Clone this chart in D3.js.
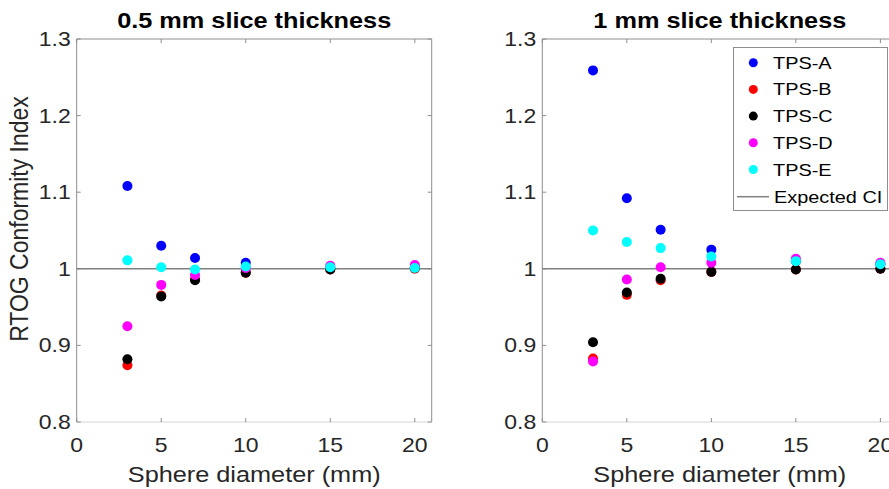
<!DOCTYPE html>
<html>
<head>
<meta charset="utf-8">
<script src="https://cdn.jsdelivr.net/npm/d3@7"></script>
<style>
  body { margin: 0; background: #fff; }
  svg text { font-family: "Liberation Sans", Arial, sans-serif; }
</style>
</head>
<body>
<div id="chart"></div>
<script>

var diameters = [3, 5, 7, 10, 15, 20];
var seriesNames = ["TPS-A", "TPS-B", "TPS-C", "TPS-D", "TPS-E"];
var seriesColors = ["#0000ff", "#ff0000", "#000000", "#ff00ff", "#00ffff"];

// 0.5 mm slice thickness
var thinA = [1.108, 1.030, 1.014, 1.008, 1.002, 1.002];
var thinB = [0.874, 0.965, 0.986, 0.995, 0.999, 1.000];
var thinC = [0.882, 0.964, 0.985, 0.995, 0.999, 1.001];
var thinD = [0.925, 0.979, 0.992, 1.001, 1.004, 1.005];
var thinE = [1.011, 1.002, 0.999, 1.003, 1.002, 1.001];

// 1 mm slice thickness
var thickA = [1.259, 1.092, 1.051, 1.025, 1.010, 1.006];
var thickB = [0.883, 0.966, 0.985, 0.996, 0.999, 1.000];
var thickC = [0.904, 0.969, 0.987, 0.996, 0.999, 1.000];
var thickD = [0.879, 0.986, 1.002, 1.008, 1.013, 1.008];
var thickE = [1.050, 1.035, 1.027, 1.016, 1.010, 1.006];

var xTicks = [0, 5, 10, 15, 20];
var yTicks = [0.8, 0.9, 1.0, 1.1, 1.2, 1.3];
var expectedCI = 1;

var W = 889, H = 489;
var stretch = 1.15; // the source figure is a bit wider than tall

var svg = d3.select("#chart")
  .append("svg")
    .attr("width", W)
    .attr("height", H);

var panelW = 355, panelTop = 39, panelH = 383;

function label(sel, x, y, sx) {
  return sel.append("text")
    .attr("transform", "translate(" + x + "," + y + ") scale(" + (sx || stretch) + ",1)");
}

function drawPanel(left, title, series) {
  var x = d3.scaleLinear().domain([0, 21]).range([left, left + panelW]);
  var y = d3.scaleLinear().domain([0.8, 1.3]).range([panelTop + panelH, panelTop]);

  var g = svg.append("g");

  // frame
  g.append("line").attr("x1", left).attr("x2", left + panelW)
    .attr("y1", y(0.8)).attr("y2", y(0.8)).attr("stroke", "#d4d4d4");
  g.append("path")
    .attr("d", "M" + left + "," + (panelTop + panelH) + "V" + panelTop + "H" + (left + panelW) + "V" + (panelTop + panelH))
    .attr("fill", "none").attr("stroke", "#8e8e8e");

  // inner ticks, mirrored on all sides
  xTicks.forEach(function(t) {
    g.append("line").attr("x1", x(t)).attr("x2", x(t)).attr("y1", y(0.8)).attr("y2", y(0.8) - 4).attr("stroke", "#8e8e8e");
    g.append("line").attr("x1", x(t)).attr("x2", x(t)).attr("y1", panelTop).attr("y2", panelTop + 4).attr("stroke", "#8e8e8e");
  });
  yTicks.forEach(function(t) {
    g.append("line").attr("x1", left).attr("x2", left + 4).attr("y1", y(t)).attr("y2", y(t)).attr("stroke", "#8e8e8e");
    g.append("line").attr("x1", left + panelW).attr("x2", left + panelW - 4).attr("y1", y(t)).attr("y2", y(t)).attr("stroke", "#8e8e8e");
  });

  // tick labels
  xTicks.forEach(function(t) {
    label(g, x(t), y(0.8) + 30)
      .attr("text-anchor", "middle")
      .style("font-size", "20px")
      .attr("fill", "#262626")
      .text(t);
  });
  yTicks.forEach(function(t) {
    label(g, left - 6, y(t) + 7)
      .attr("text-anchor", "end")
      .style("font-size", "20px")
      .attr("fill", "#262626")
      .text(t === 1 ? "1" : d3.format(".1f")(t));
  });

  // expected CI line
  g.append("line")
    .attr("x1", x(0)).attr("x2", x(21))
    .attr("y1", y(expectedCI)).attr("y2", y(expectedCI))
    .attr("stroke", "#808080").attr("stroke-width", 1.5);

  series.forEach(function(vals, i) {
    g.selectAll(".s" + i).data(vals).enter().append("circle")
      .attr("cx", function(d, j) { return x(diameters[j]); })
      .attr("cy", function(d) { return y(d); })
      .attr("r", 5)
      .attr("fill", seriesColors[i]);
  });

  label(g, left + panelW / 2, 28)
    .attr("text-anchor", "middle")
    .style("font-size", "22px")
    .style("font-weight", "bold")
    .text(title);

  label(g, left + panelW / 2, 482)
    .attr("text-anchor", "middle")
    .style("font-size", "22px")
    .attr("fill", "#262626")
    .text("Sphere diameter (mm)");

  return { x: x, y: y };
}

drawPanel(76.7, "0.5 mm slice thickness", [thinA, thinB, thinC, thinD, thinE]);
drawPanel(542.3, "1 mm slice thickness", [thickA, thickB, thickC, thickD, thickE]);

svg.append("text")
  .attr("transform", "translate(28,219) scale(" + stretch + ",1) rotate(-90)")
  .attr("text-anchor", "middle")
  .style("font-size", "23px")
  .attr("fill", "#262626")
  .text("RTOG Conformity Index");

// legend
var lg = svg.append("g");
lg.append("rect")
  .attr("x", 733.5).attr("y", 47.5).attr("width", 154).attr("height", 163)
  .attr("fill", "#fff").attr("stroke", "#8e8e8e");

seriesNames.forEach(function(name, i) {
  var cy = 62.7 + i * 26.7;
  lg.append("circle").attr("cx", 753.3).attr("cy", cy).attr("r", 4.5).attr("fill", seriesColors[i]);
  label(lg, 773, cy + 6, 1.17).style("font-size", "17px").text(name);
});
lg.append("line").attr("x1", 737).attr("x2", 769).attr("y1", 196.7).attr("y2", 196.7)
  .attr("stroke", "#808080").attr("stroke-width", 1.5);
label(lg, 774, 202.7, 1.17).style("font-size", "17px").text("Expected CI");

</script>
</body>
</html>
